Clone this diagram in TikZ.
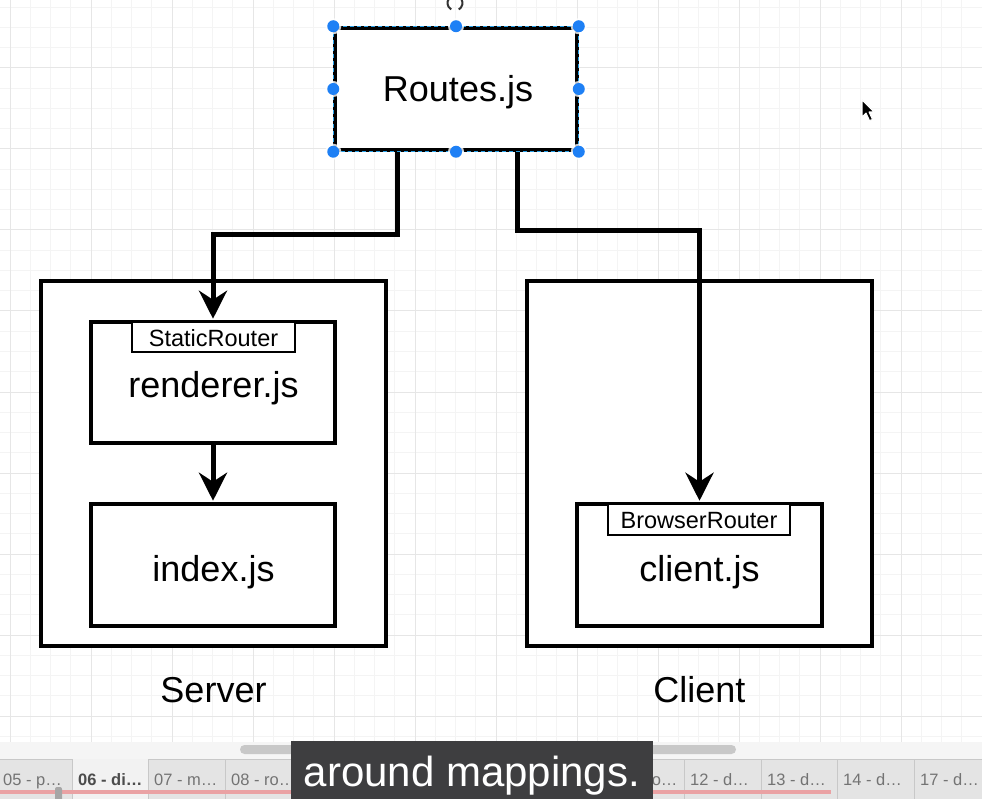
\documentclass[tikz,border=0pt]{standalone}
\usepackage{fontspec}
\setmainfont{Liberation Sans}
\usetikzlibrary{arrows.meta}
\definecolor{gridminor}{RGB}{244,244,244}
\definecolor{gridmajor}{RGB}{230,230,230}
\definecolor{handle}{RGB}{30,128,245}
\definecolor{seldash}{RGB}{40,160,230}
\definecolor{tabbg}{RGB}{228,228,228}
\definecolor{tabact}{RGB}{242,242,242}
\definecolor{tabline}{RGB}{200,200,200}
\definecolor{tabtext}{RGB}{115,115,115}
\definecolor{scrollbg}{RGB}{245,245,245}
\definecolor{thumb}{RGB}{200,200,200}
\definecolor{progress}{RGB}{234,162,164}
\definecolor{subbg}{RGB}{62,62,64}
\tikzset{
  box/.style={draw=black, line width=3.5pt, fill=white, inner sep=0pt, rectangle},
  tagbox/.style={draw=black, line width=2.5pt, fill=white, inner sep=0pt, rectangle},
  bigtxt/.style={inner sep=0pt, anchor=base, font=\fontsize{36}{40}\selectfont},
  tagtxt/.style={inner sep=0pt, anchor=base, font=\fontsize{23.5}{26}\selectfont},
  tabtxt/.style={inner sep=0pt, anchor=base west, text=tabtext, font=\fontsize{16.5}{18}\selectfont},
  conn/.style={line width=5pt, line join=miter, -{Stealth[length=28pt, width=28pt, inset=9pt]}},
  hdl/.style={circle, fill=handle, inner sep=0pt, minimum size=12pt},
}
\begin{document}
\begin{tikzpicture}[x=1pt,y=-1pt]
\useasboundingbox (0,0) rectangle (982,799);
% canvas and grid
\fill[white] (0,0) rectangle (982,742);
\foreach \k in {-1,...,48} \draw[gridminor, line width=1pt] ({10+20.25*\k},0) -- ({10+20.25*\k},742);
\foreach \k in {-4,...,33} \draw[gridminor, line width=1pt] (0,{68+20.25*\k}) -- (982,{68+20.25*\k});
\foreach \k in {0,...,12} \draw[gridmajor, line width=1pt] ({10+81*\k},0) -- ({10+81*\k},742);
\foreach \k in {-1,...,8} \draw[gridmajor, line width=1pt] (0,{68+81*\k}) -- (982,{68+81*\k});

% containers
\node[box, minimum width=345pt, minimum height=365pt] (server) at (213.5,463.5) {};
\node[box, minimum width=345pt, minimum height=365pt] (client) at (699.5,463.5) {};
\node[bigtxt] (serverlbl) at (213.5,702) {Server};
\node[bigtxt] (clientlbl) at (699.5,702) {Client};

% inner boxes
\node[box, minimum width=244pt, minimum height=121pt] (renderer) at (213,382.5) {};
\node[tagbox, minimum width=163pt, minimum height=30pt] (static) at (213.5,337) {};
\node[tagtxt] (statictxt) at (213.5,346.5) {StaticRouter};
\node[bigtxt] (renderertxt) at (213.5,397) {renderer.js};

\node[box, minimum width=244pt, minimum height=122pt] (index) at (213,565) {};
\node[bigtxt] (indextxt) at (213.5,581) {index.js};

\node[box, minimum width=245pt, minimum height=122pt] (clientjs) at (699.5,565) {};
\node[tagbox, minimum width=182pt, minimum height=31pt] (browser) at (699,519.5) {};
\node[tagtxt] (browsertxt) at (699,528.5) {BrowserRouter};
\node[bigtxt] (clientjstxt) at (699.5,581) {client.js};

% routes box
\node[box, minimum width=242pt, minimum height=122pt] (routes) at (456,89) {};
\node[bigtxt] (routestxt) at (458,102) {Routes.js};

% connectors
\coordinate (a1) at (397,235);
\coordinate (a2) at (213,235);
\coordinate (c1) at (517,231);
\coordinate (c2) at (699.5,231);
\draw[conn, shorten >=1.5pt] (routes.south -| a1) -- (a1) -- (a2) -- (renderer.north);
\draw[conn, shorten >=1.5pt] (routes.south -| c1) -- (c1) -- (c2) -- (clientjs.north);
\draw[conn, shorten >=1.5pt] (renderer.south) -- (index.north);

% selection decoration
\draw[seldash, line width=1.2pt, dash pattern=on 4pt off 3pt] (routes.north west) rectangle (routes.south east);
\foreach \p in {north west,north,north east,east,south east,south,south west,west}{
  \fill[white, opacity=0.8] (routes.\p) circle (8pt);
  \node[hdl] at (routes.\p) {};
}
\draw[black!80, line width=2pt] (455,3) ++(60:7.5) arc (60:-240:7.5);
% cursor
\filldraw[fill=black, draw=white, line width=1pt, line join=round]
  (862,100) -- (862,117) -- (866,113) -- (869.5,120.5) -- (872.5,119.5) -- (869,112) -- (874,112) -- cycle;

% bottom bar
\fill[scrollbg] (0,742) rectangle (982,759);
\fill[thumb, rounded corners=4.5pt] (240,745) rectangle (736,754);
\fill[tabbg] (0,759) rectangle (982,799);
\fill[tabact] (72,759) rectangle (148,799);
\draw[tabline, line width=1pt] (0,759) -- (72,759);
\draw[tabline, line width=1pt] (148,759) -- (982,759);
\foreach \x in {72,148,225,301.5,378,454.5,531,607.5,684,761,837,914}
  \draw[tabline, line width=1pt] (\x,759) -- (\x,799);
\node[tabtxt] (t05) at (3,785) {05 - p…};
\node[tabtxt, text=black!70, font=\bfseries\fontsize{16.5}{18}\selectfont] (t06) at (78,785) {06 - di…};
\node[tabtxt] (t07) at (154,785) {07 - m…};
\node[tabtxt] (t08) at (231,785) {08 - ro…};
\node[tabtxt] (tfo) at (647,785) {fo…};
\node[tabtxt] (t12) at (690,785) {12 - d…};
\node[tabtxt] (t13) at (767,785) {13 - d…};
\node[tabtxt] (t14) at (843,785) {14 - d…};
\node[tabtxt] (t17) at (920,785) {17 - d…};
\draw[progress, line width=4pt] (0,792) -- (831,792);
\fill[black!35, rounded corners=2pt] (55,787) rectangle (62,801);

% subtitle
\fill[subbg] (291,741) rectangle (653,799);
\node[inner sep=0pt, anchor=base, text=white, font=\fontsize{42}{46}\selectfont] (subtitle) at (472,786) {around mappings.};
\end{tikzpicture}
\end{document}
